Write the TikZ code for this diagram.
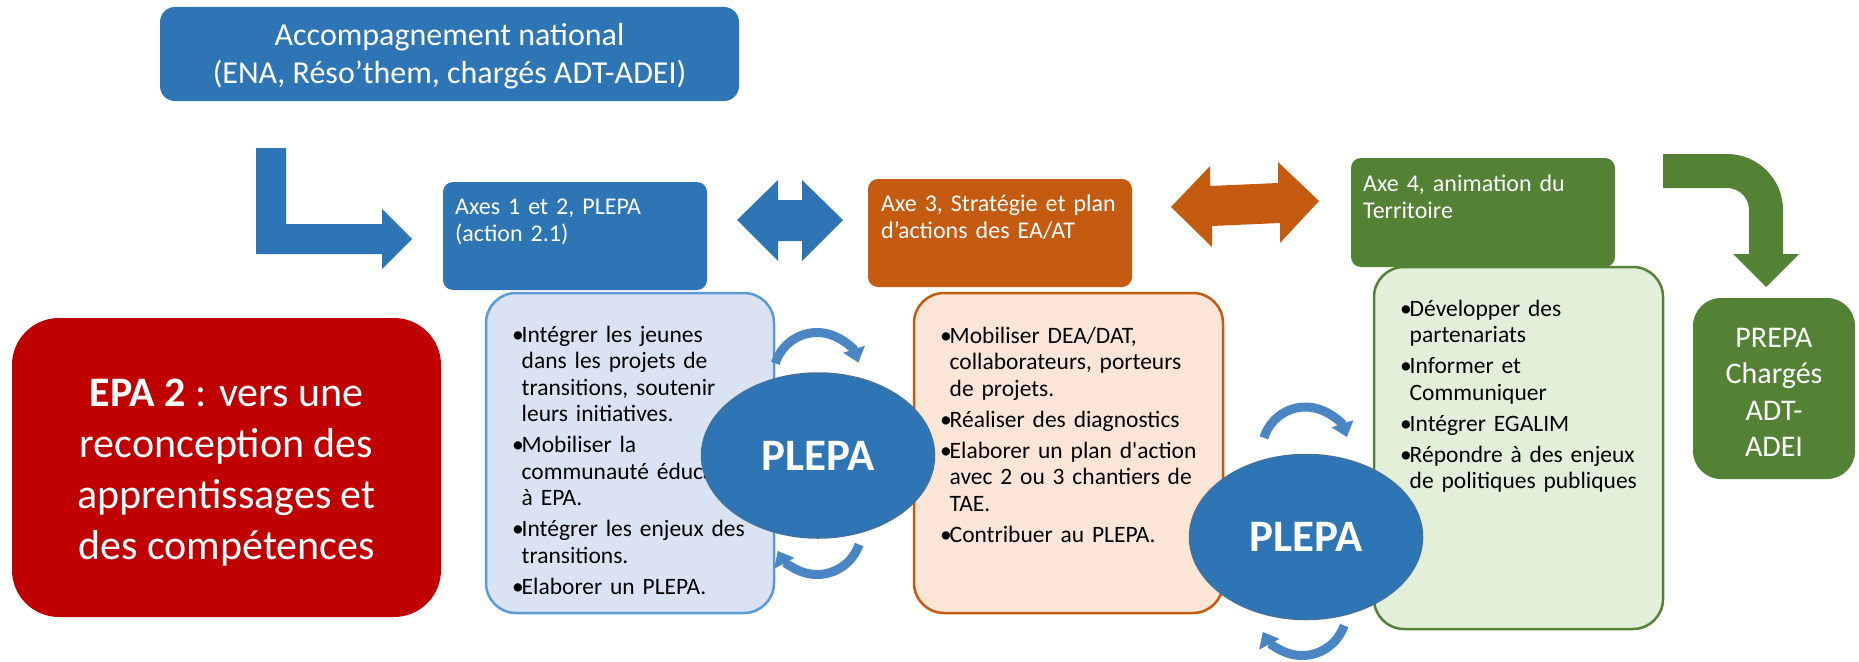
\documentclass[tikz,border=0pt]{standalone}
\usepackage{fontspec}
\setmainfont{Carlito}
\newfontfamily\rawfont{Carlito}[Ligatures=TeXOff]
\usetikzlibrary{shapes.geometric,arrows.meta}
\definecolor{cblue}{HTML}{2E75B6}
\definecolor{cblueline}{HTML}{41719C}
\definecolor{corange}{HTML}{C55A11}
\definecolor{cgreen}{HTML}{548235}
\definecolor{cred}{HTML}{C00000}
\definecolor{lblue}{HTML}{DAE3F3}
\definecolor{lblueline}{HTML}{5B9BD5}
\definecolor{lorange}{HTML}{FBE5D6}
\definecolor{lgreen}{HTML}{E2F0D9}
\definecolor{carc}{HTML}{4A85C4}
\newcommand{\bitem}[1]{\par\hangindent=9.5pt\hangafter=1\noindent\makebox[9.5pt][l]{•}#1\par}
\begin{document}
\begin{tikzpicture}[x=1pt,y=-1pt,
  solidbox/.style={inner sep=0pt, outer sep=0pt},
  listbox/.style={inner sep=0pt, outer sep=0pt, line width=2.5pt, rounded corners=30pt},
  hdr/.style={anchor=north west, inner sep=0pt, text=white, align=left, text width=250pt, font={\fontsize{24pt}{27pt}\selectfont}},
  lst/.style={anchor=north west, inner sep=0pt, align=left, text width=300pt, font={\fontsize{23.5pt}{26.5pt}\selectfont}},
  ctext/.style={anchor=north, inner sep=0pt, text=white, align=center},
  plepa/.style={ellipse, minimum width=233pt, minimum height=165pt, inner sep=0pt, fill=cblue, draw=cblueline, line width=1.5pt, text=white, font={\bfseries\fontsize{45pt}{50pt}\selectfont}},
  circarrow/.style={draw=carc, line width=9pt, -{Triangle[width=22pt,length=14pt]}}
]
\useasboundingbox (0,0) rectangle (1859,661);

% top box
\node[solidbox, fill=cblue, rounded corners=15pt, minimum width=579pt, minimum height=94pt] (nat) at (449.5,54) {};
\node[ctext, font={\fontsize{32pt}{38.5pt}\selectfont}] (natt) at (449.5,13) {\rule{0pt}{32pt}Accompagnement national\\(ENA, Réso’them, chargés ADT-ADEI)};

% L arrow
\fill[cblue] (256,148) -- (286,148) -- (286,224) -- (382,224) -- (382,209) -- (412,239) -- (382,269) -- (382,254) -- (256,254) -- cycle;

% header boxes
\node[solidbox, fill=cblue, rounded corners=10pt, minimum width=264pt, minimum height=108pt] (ax1) at (575,236) {};
\node[hdr] (ax1t) at (455,190) {\rule{0pt}{24pt}Axes 1 et 2, PLEPA\\(action 2.1)};

\node[solidbox, fill=corange, rounded corners=10pt, minimum width=264pt, minimum height=108pt] (ax3) at (1000,233) {};
\node[hdr] (ax3t) at (881,187) {\rule{0pt}{24pt}Axe 3, Stratégie et plan\\d’actions des EA/AT};

\node[solidbox, fill=cgreen, rounded corners=10pt, minimum width=264pt, minimum height=109pt] (ax4) at (1483,212.5) {};
\node[hdr] (ax4t) at (1363,167) {\rule{0pt}{24pt}Axe 4, animation du\\Territoire};

% blue double arrow
\fill[cblue] (737,220) -- (778,180) -- (778,200) -- (802,200) -- (802,180) -- (843,220) -- (802,261) -- (802,241) -- (778,241) -- (778,261) -- cycle;

% orange double arrow
\fill[corange] (1171,207) -- (1210,166) -- (1210,186) -- (1278,183) -- (1278,162) -- (1319,201) -- (1280,243) -- (1280,223) -- (1212,226) -- (1212,247) -- cycle;

% green bent arrow
\fill[cgreen] (1663,154) -- (1727,154) .. controls (1757.9,154) and (1783,179.1) .. (1783,210) -- (1783,254) -- (1799,254) -- (1766,287) -- (1733,254) -- (1749,254) -- (1749,210) .. controls (1749,197.8) and (1739.2,188) .. (1727,188) -- (1663,188) -- cycle;

% PREPA
\node[solidbox, fill=cgreen, rounded corners=28pt, minimum width=162pt, minimum height=181pt] (prepa) at (1774,388.5) {};
\node[ctext, font={\fontsize{30pt}{36.5pt}\selectfont}] (prepat) at (1774,317) {\rule{0pt}{30pt}PREPA\\Chargés\\ADT-\\ADEI};

% red box
\node[solidbox, fill=cred, rounded corners=47pt, minimum width=429pt, minimum height=299pt] (epa) at (226.5,467.5) {};
\node[ctext, font={\fontsize{42pt}{51pt}\selectfont}] (epat) at (226.5,364) {\rule{0pt}{42pt}\textbf{EPA 2} : vers une\\reconception des\\apprentissages et\\des compétences};

% list boxes
\node[listbox, fill=lblue, draw=lblueline, minimum width=288pt, minimum height=320pt] (l1) at (630,453) {};
\node[lst] (l1t) at (512,311) {\setlength{\parskip}{4.5pt}%
\bitem{\rule{0pt}{24pt}Intégrer les jeunes\newline dans les projets de\newline transitions, soutenir\newline leurs initiatives.}%
\bitem{Mobiliser la\newline communauté éducative\newline à EPA.}%
\bitem{Intégrer les enjeux des\newline transitions.}%
\bitem{Elaborer un PLEPA.}};

\node[listbox, fill=lorange, draw=corange, minimum width=309pt, minimum height=320pt] (l3) at (1068.5,453) {};
\node[lst] (l3t) at (940,312) {\setlength{\parskip}{4.5pt}%
\bitem{\rule{0pt}{24pt}Mobiliser DEA/DAT,\newline collaborateurs, porteurs\newline de projets.}%
\bitem{Réaliser des diagnostics}%
\bitem{Elaborer un plan d{\rawfont'}action\newline avec 2 ou 3 chantiers de\newline TAE.}%
\bitem{Contribuer au PLEPA.}};

\node[listbox, fill=lgreen, draw=cgreen, minimum width=289pt, minimum height=362pt] (l4) at (1518.5,448) {};
\node[lst] (l4t) at (1400,285) {\setlength{\parskip}{4.5pt}%
\bitem{\rule{0pt}{24pt}Développer des\newline partenariats}%
\bitem{Informer et\newline Communiquer}%
\bitem{Intégrer EGALIM}%
\bitem{Répondre à des enjeux\newline de politiques publiques}};

% PLEPA ellipses
\node[plepa] (p1) at (818,455.5) {PLEPA};
\node[plepa] (p2) at (1306,537) {PLEPA};

% circular arrows
\draw[circarrow] (775.4,363.3) arc[start angle=163, end angle=18, radius=43.5pt];
\draw[circarrow] (859.1,544.5) arc[start angle=-19, end angle=-152, radius=44.5pt];
\draw[circarrow] (1263.9,437.8) arc[start angle=163, end angle=18, radius=43.5pt];
\draw[circarrow] (1344.1,625.5) arc[start angle=-19, end angle=-152, radius=44.5pt];
\end{tikzpicture}
\end{document}
